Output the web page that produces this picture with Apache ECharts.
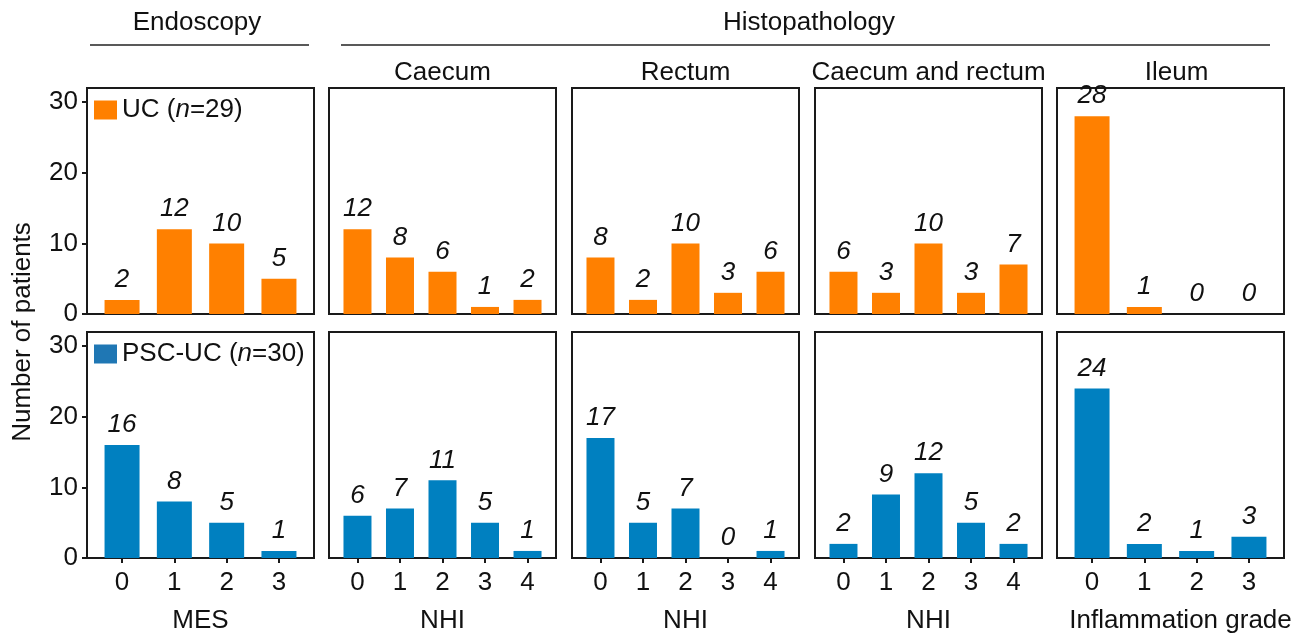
<!DOCTYPE html>
<html>
<head>
<meta charset="utf-8">
<script src="https://cdn.jsdelivr.net/npm/echarts@6/dist/echarts.min.js"></script>
<style>
html,body{margin:0;padding:0;background:#fff;}
#chart{width:1301px;height:636px;}
</style>
</head>
<body>
<div id="chart"></div>
<script>
// ---- data ----
const mesCats = ['0', '1', '2', '3'];
const nhiCats = ['0', '1', '2', '3', '4'];
const gradeCats = ['0', '1', '2', '3'];
const yTicks = [0, 10, 20, 30];
const groupTitles = ['Endoscopy', 'Histopathology'];
const panelTitles = ['Caecum', 'Rectum', 'Caecum and rectum', 'Ileum'];
const xNames = ['MES', 'NHI', 'NHI', 'NHI', 'Inflammation grade'];

const ucMES = [2, 12, 10, 5];
const ucCaecum = [12, 8, 6, 1, 2];
const ucRectum = [8, 2, 10, 3, 6];
const ucCaecumRectum = [6, 3, 10, 3, 7];
const ucIleum = [28, 1, 0, 0];

const pscMES = [16, 8, 5, 1];
const pscCaecum = [6, 7, 11, 5, 1];
const pscRectum = [17, 5, 7, 0, 1];
const pscCaecumRectum = [2, 9, 12, 5, 2];
const pscIleum = [24, 2, 1, 3];

// ---- layout / style ----
const FONT = 'Liberation Sans, Arial, sans-serif';
const FS = 26;
const ORANGE = '#ff8000';
const BLUE = '#0080c0';
const BLUE_LEG = '#1f77b4';
const colLeft = [87, 329, 572, 815, 1057];
const colW = 227;
const rowTop = [88, 332];
const rowH = 226;
const titleShift = [0, 0, 0, 6];
const nameShift = [0, 0, 0, 0, 10];
const catSets = [mesCats, nhiCats, nhiCats, nhiCats, gradeCats];
const rows = [
  {name: 'UC', color: ORANGE, data: [ucMES, ucCaecum, ucRectum, ucCaecumRectum, ucIleum]},
  {name: 'PSC-UC', color: BLUE, data: [pscMES, pscCaecum, pscRectum, pscCaecumRectum, pscIleum]}
];

const grids = [], xAxes = [], yAxes = [], series = [];
let idx = 0;
rows.forEach((row, r) => {
  row.data.forEach((vals, c) => {
    const cats = catSets[c];
    const n = cats.length;
    const pad = 0.67;
    const bw = Math.round(0.67 * colW / (n - 1 + 2 * pad));
    grids.push({left: colLeft[c], top: rowTop[r], width: colW, height: rowH,
      show: true, borderColor: '#1a1a1a', borderWidth: 2, backgroundColor: 'transparent', containLabel: false});
    const ticks = cats.map((_, i) => i);
    xAxes.push({
      type: 'value', gridIndex: idx, min: -pad, max: n - 1 + pad, position: 'bottom',
      axisLine: {show: false, onZero: false},
      splitLine: {show: false},
      axisTick: {show: r === 1, customValues: ticks, length: 5, lineStyle: {color: '#1a1a1a', width: 2}},
      axisLabel: {show: r === 1, customValues: ticks, formatter: v => cats[Math.round(v)], fontSize: FS, color: '#111', margin: 12, fontFamily: FONT},
      name: r === 1 ? xNames[c] : '', nameLocation: 'middle', nameGap: 50,
      nameTextStyle: {fontSize: FS, color: '#111', fontFamily: FONT, padding: [0, 0, 0, nameShift[c] * 2]}
    });
    yAxes.push({
      type: 'value', gridIndex: idx, min: 0, max: 32, position: 'left',
      axisLine: {show: false, onZero: false},
      splitLine: {show: false},
      axisTick: {show: c === 0, customValues: yTicks, length: 5, lineStyle: {color: '#1a1a1a', width: 2}},
      axisLabel: {show: c === 0, customValues: yTicks, fontSize: FS, color: '#111', margin: 9, fontFamily: FONT}
    });
    series.push({
      type: 'bar', name: row.name, xAxisIndex: idx, yAxisIndex: idx,
      barWidth: bw,
      itemStyle: {color: row.color},
      data: vals.map((v, i) => [i, v]),
      label: {show: true, position: 'top', distance: 7, fontSize: FS, fontStyle: 'italic', color: '#111', fontFamily: FONT,
        formatter: p => String(p.value[1])},
      emphasis: {disabled: true},
      animation: false
    });
    idx++;
  });
});

const titles = [
  {text: groupTitles[0], left: 197, top: 10, textAlign: 'center'},
  {text: groupTitles[1], left: 809, top: 10, textAlign: 'center'}
];
panelTitles.forEach((t, i) => {
  titles.push({text: t, left: colLeft[i + 1] + colW / 2 + titleShift[i], top: 60, textAlign: 'center'});
});
titles.forEach(t => { t.padding = 0; t.textStyle = {fontSize: FS, fontWeight: 'normal', color: '#111', fontFamily: FONT}; });

const legendBase = {
  orient: 'vertical', icon: 'rect', itemWidth: 23, itemHeight: 19, padding: 0, selectedMode: false,
  textStyle: {fontSize: FS, color: '#111', fontFamily: FONT,
    rich: {i: {fontSize: FS, fontStyle: 'italic', color: '#111', fontFamily: FONT}}}
};

const option = {
  backgroundColor: '#fff',
  animation: false,
  textStyle: {fontFamily: FONT},
  title: titles,
  legend: [
    Object.assign({}, legendBase, {left: 94, top: 97, data: [{name: 'UC', itemStyle: {color: ORANGE}}],
      formatter: () => 'UC ({i|n}=29)'}),
    Object.assign({}, legendBase, {left: 94, top: 341, data: [{name: 'PSC-UC', itemStyle: {color: BLUE_LEG}}],
      formatter: () => 'PSC-UC ({i|n}=30)'})
  ],
  grid: grids,
  xAxis: xAxes,
  yAxis: yAxes,
  series: series,
  graphic: [
    {type: 'line', shape: {x1: 90, y1: 45, x2: 309, y2: 45}, style: {stroke: '#222', lineWidth: 1.5}},
    {type: 'line', shape: {x1: 341, y1: 45, x2: 1270, y2: 45}, style: {stroke: '#222', lineWidth: 1.5}},
    {type: 'text', x: 23, y: 332, rotation: Math.PI / 2,
      style: {text: 'Number of patients', fontSize: FS, fill: '#111', fontFamily: FONT, textAlign: 'center', textVerticalAlign: 'middle'}}
  ]
};

const chart = echarts.init(document.getElementById('chart'), null, {renderer: 'canvas', width: 1301, height: 636});
chart.setOption(option);
</script>
</body>
</html>
